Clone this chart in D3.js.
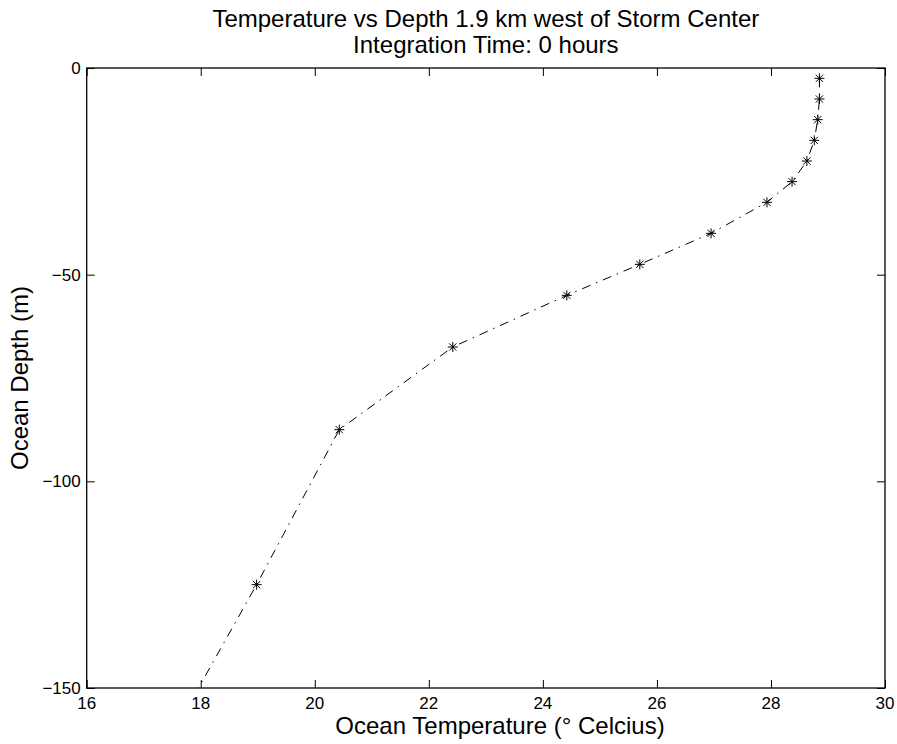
<!DOCTYPE html>
<html>
<head>
<meta charset="utf-8">
<script src="https://cdn.jsdelivr.net/npm/d3@7"></script>
<style>
body { margin: 0; background: #fff; }
text { font-family: "Liberation Sans", Arial, Helvetica, sans-serif; fill: #000; }
</style>
</head>
<body>
<div id="chart"></div>
<script>

var width = 897,
    height = 744;

// profile (depth in m, temperature in deg C)
var depth = [-2.5, -7.5, -12.5, -17.5, -22.5, -27.5, -32.5, -40, -47.5, -55, -67.5, -87.5, -125, -175];
var temp  = [28.85, 28.85, 28.82, 28.76, 28.63, 28.37, 27.93, 26.95, 25.70, 24.42, 22.42, 20.43, 18.98, 16.94];

var xTicks = [16, 18, 20, 22, 24, 26, 28, 30];
var yTicks = [0, -50, -100, -150];

var titleLines = ["Temperature vs Depth 1.9 km west of Storm Center", "Integration Time: 0 hours"];

// plot box (don't call these top/left, window.top is taken)
var pLeft = 86.7, pRight = 885, pTop = 68, pBottom = 688;

var x = d3.scaleLinear().domain([16, 30]).range([pLeft, pRight]);
var y = d3.scaleLinear().domain([-150, 0]).range([pBottom, pTop]);

var svg = d3.select("#chart").append("svg")
    .attr("width", width)
    .attr("height", height);

svg.append("defs").append("clipPath")
    .attr("id", "plotclip")
  .append("rect")
    .attr("x", pLeft)
    .attr("y", pTop)
    .attr("width", pRight - pLeft)
    .attr("height", pBottom - pTop);

/////// axes, ticks inside on all four sides
var tickLen = 8;

svg.append("g")
    .attr("transform", "translate(0," + pBottom + ")")
    .call(d3.axisBottom(x).tickValues(xTicks).tickSizeInner(-tickLen).tickSizeOuter(0).tickFormat(""))
    .call(function(g) { g.select(".domain").remove(); });

svg.append("g")
    .attr("transform", "translate(0," + pTop + ")")
    .call(d3.axisTop(x).tickValues(xTicks).tickSizeInner(-tickLen).tickSizeOuter(0).tickFormat(""))
    .call(function(g) { g.select(".domain").remove(); });

svg.append("g")
    .attr("transform", "translate(" + pLeft + ",0)")
    .call(d3.axisLeft(y).tickValues(yTicks).tickSizeInner(-tickLen).tickSizeOuter(0).tickFormat(""))
    .call(function(g) { g.select(".domain").remove(); });

svg.append("g")
    .attr("transform", "translate(" + pRight + ",0)")
    .call(d3.axisRight(y).tickValues(yTicks).tickSizeInner(-tickLen).tickSizeOuter(0).tickFormat(""))
    .call(function(g) { g.select(".domain").remove(); });

svg.selectAll(".tick line").attr("stroke", "#000").attr("stroke-width", 1);

svg.append("rect")
    .attr("x", pLeft)
    .attr("y", pTop)
    .attr("width", pRight - pLeft)
    .attr("height", pBottom - pTop)
    .attr("fill", "none")
    .attr("stroke", "#000")
    .attr("stroke-width", 1.3);

/////// tick labels
svg.selectAll(".xlab")
    .data(xTicks)
    .enter()
    .append("text")
    .attr("class", "xlab")
    .attr("x", function(d) { return x(d); })
    .attr("y", 709)
    .attr("text-anchor", "middle")
    .style("font-size", "17px")
    .text(function(d) { return d; });

svg.selectAll(".ylab")
    .data(yTicks)
    .enter()
    .append("text")
    .attr("class", "ylab")
    .attr("x", pLeft - 6)
    .attr("y", function(d) { return y(d); })
    .attr("dy", "0.36em")
    .attr("text-anchor", "end")
    .style("font-size", "17px")
    .text(function(d) { return d < 0 ? "\u2212" + (-d) : d; });

/////// profile line + asterisk markers
var pts = depth.map(function(d, i) { return [temp[i], d]; });

var line = d3.line()
    .x(function(d) { return x(d[0]); })
    .y(function(d) { return y(d[1]); });

var plot = svg.append("g").attr("clip-path", "url(#plotclip)");

plot.append("path")
    .datum(pts)
    .attr("d", line)
    .attr("fill", "none")
    .attr("stroke", "#000")
    .attr("stroke-width", 1)
    .attr("stroke-dasharray", "9,6,1.5,6");

var r = 5, rd = 3.6;
var star = "M" + (-r) + ",0L" + r + ",0" +
           "M0," + (-r) + "L0," + r +
           "M" + (-rd) + "," + (-rd) + "L" + rd + "," + rd +
           "M" + (-rd) + "," + rd + "L" + rd + "," + (-rd);

plot.selectAll(".mk")
    .data(pts)
    .enter()
    .append("path")
    .attr("class", "mk")
    .attr("transform", function(d) { return "translate(" + x(d[0]) + "," + y(d[1]) + ")"; })
    .attr("d", star)
    .attr("fill", "none")
    .attr("stroke", "#000")
    .attr("stroke-width", 1);

/////// titles and axis labels
svg.selectAll(".title")
    .data(titleLines)
    .enter()
    .append("text")
    .attr("class", "title")
    .attr("x", (pLeft + pRight) / 2)
    .attr("y", function(d, i) { return 27 + i * 26; })
    .attr("text-anchor", "middle")
    .style("font-size", "24px")
    .text(function(d) { return d; });

svg.append("text")
    .attr("x", 500)
    .attr("y", 734)
    .attr("text-anchor", "middle")
    .style("font-size", "24px")
    .text("Ocean Temperature (\u00b0 Celcius)");

svg.append("text")
    .attr("transform", "translate(28," + ((pTop + pBottom) / 2) + ") rotate(-90)")
    .attr("text-anchor", "middle")
    .style("font-size", "24px")
    .text("Ocean Depth (m)");

</script>
</body>
</html>
